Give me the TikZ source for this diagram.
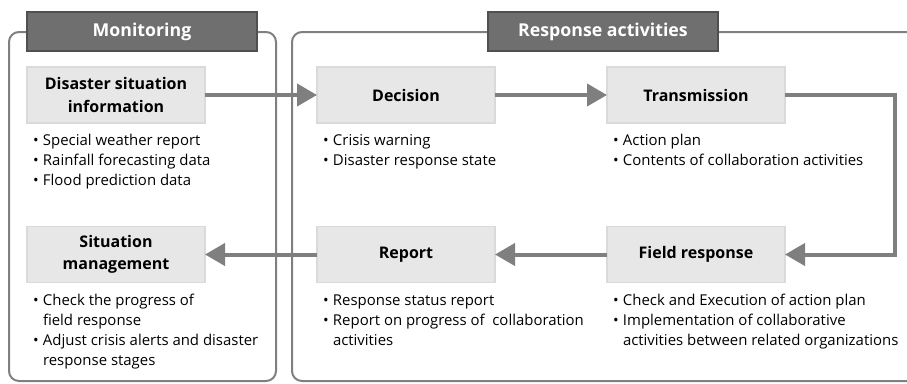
\documentclass[tikz,border=0pt]{standalone}
\usepackage{fontspec}
\setmainfont{Open Sans}[BoldFont={Open Sans Bold}]
\usetikzlibrary{arrows.meta}
\definecolor{framegray}{HTML}{808080}
\definecolor{hdrfill}{HTML}{6F6F6F}
\definecolor{hdrdraw}{HTML}{505050}
\definecolor{boxfill}{HTML}{E7E7E7}
\definecolor{boxdraw}{HTML}{DADADA}
\definecolor{arrowgray}{HTML}{7F7F7F}
\newcommand\bl{\makebox[7.5pt][l]{•}}
\newcommand\ind{\hspace*{7.5pt}}
\tikzset{
  frame/.style={draw=framegray, line width=1.5pt, rounded corners=7.5pt},
  hdr/.style={draw=hdrdraw, fill=hdrfill, line width=0.8pt, text=white,
    minimum width=172.5pt, minimum height=29.25pt, inner sep=0pt, outer sep=0pt,
    font=\fontsize{13.3}{15}\selectfont\bfseries},
  stage/.style={draw=boxdraw, fill=boxfill, line width=1.2pt,
    minimum width=133.5pt, minimum height=42pt, inner sep=0pt, outer sep=0pt,
    align=center, font=\fontsize{12}{17}\selectfont\bfseries},
  items/.style={anchor=north west, inner sep=0pt, outer sep=0pt, align=left,
    font=\fontsize{11.2}{15}\selectfont},
  flow/.style={draw=arrowgray, line width=3pt, line join=miter,
    -{Triangle[length=15pt, width=16.5pt]}},
}
\begin{document}
\begin{tikzpicture}[x=0.75pt, y=-0.75pt]
\useasboundingbox (0,0) rectangle (907,383);
\clip (0,0) rectangle (907,383);
% outer frames
\draw[frame] (9,32) rectangle (276,381);
\draw[frame] (292,32) rectangle (960,381);
% headers
\node[hdr] (hmon) at (142,31.5) {Monitoring};
\node[hdr] (hresp) at (603,31.5) {Response activities};
% stage boxes
\node[stage] (dsi) at (116,95) {Disaster situation\\information};
\node[stage] (dec) at (406,95) {Decision};
\node[stage] (tra) at (696,95) {Transmission};
\node[stage] (sit) at (116,254.5) {Situation\\management};
\node[stage] (rep) at (406,254.5) {Report};
\node[stage] (fie) at (696,254.5) {Field response};
% bullet lists
\node[items] (ldsi) at (33,131) {\strut\bl Special weather report\\\bl Rainfall forecasting data\\\bl Flood prediction data};
\node[items] (ldec) at (323,131) {\strut\bl Crisis warning\\\bl Disaster response state};
\node[items] (ltra) at (613,131) {\strut\bl Action plan\\\bl Contents of collaboration activities};
\node[items] (lsit) at (33,291) {\strut\bl Check the progress of\\\ind field response\\\bl Adjust crisis alerts and disaster\\\ind response stages};
\node[items] (lrep) at (323,291) {\strut\bl Response status report\\\bl Report on progress of~ collaboration\\\ind activities};
\node[items] (lfie) at (613,291) {\strut\bl Check and Execution of action plan\\\bl Implementation of collaborative\\\ind activities between related organizations};
% connectors
\coordinate (turn) at (895,95);
\draw[flow] (dsi.east) -- (dec.west);
\draw[flow] (dec.east) -- (tra.west);
\draw[flow] (tra.east) -- (turn) |- (fie.east);
\draw[flow] (fie.west) -- (rep.east);
\draw[flow] (rep.west) -- (sit.east);
\end{tikzpicture}
\end{document}
